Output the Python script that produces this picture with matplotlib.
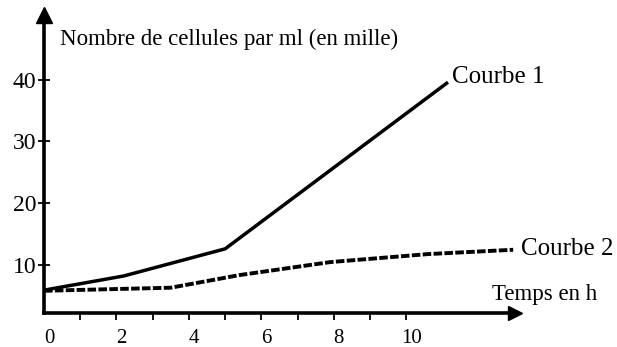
import matplotlib
matplotlib.use("Agg")
import matplotlib.pyplot as plt
import matplotlib.transforms as mtransforms

plt.rcParams['font.family'] = ['Liberation Serif', 'DejaVu Serif']

# temps (h) et nombre de cellules par ml (en mille)
temps_c1 = [0, 2.2, 5.0, 11.15]
cellules_c1 = [5.9, 8.2, 12.6, 39.6]

temps_c2 = [0, 3.5, 5.4, 7.9, 10.6, 12.95]
cellules_c2 = [5.8, 6.3, 8.35, 10.45, 11.75, 12.45]

xtick_pos = list(range(1, 11))
xtick_labels = [0, 2, 4, 6, 8, 10]
ytick_pos = [10, 20, 30, 40]

W, H = 617, 347
fig = plt.figure(figsize=(W / 100, H / 100), dpi=100)
# origin of the axes at pixel (44, 313), arrows end at x=515 and y=15
ax = fig.add_axes([44 / W, (H - 313) / H, (515 - 44) / W, (313 - 15) / H])
ax.set_xlim(0, 13)
ax.set_ylim(2.2, 50.5)

for s in ['top', 'right']:
    ax.spines[s].set_visible(False)
for s in ['left', 'bottom']:
    ax.spines[s].set_linewidth(2.6)

# arrow heads
ax.plot(1, 0, marker='>', color='k', ms=10, transform=ax.transAxes, clip_on=False)
ax.plot(0, 1, marker='^', color='k', ms=11, transform=ax.transAxes, clip_on=False)

ax.plot(temps_c1, cellules_c1, color='k', lw=2.5, solid_capstyle='butt', clip_on=False)
ax.plot(temps_c2, cellules_c2, color='k', lw=2.8, linestyle=(0, (2.2, 0.6)), clip_on=False)

ax.set_xticks(xtick_pos)
ax.set_xticklabels([])
ax.tick_params(axis='x', direction='out', length=5, width=1.3)

ax.set_yticks(ytick_pos)
ax.set_yticklabels([str(v) for v in ytick_pos], fontsize=17)
ax.tick_params(axis='y', direction='inout', length=9, width=1.3, pad=1)

off = mtransforms.offset_copy(ax.get_xaxis_transform(), fig=fig, x=5, y=0, units='dots')
for v in xtick_labels:
    ax.text(v, -0.085, str(v), transform=off, ha='center', va='center', fontsize=15)

ax.text(0.034, 0.899, 'Nombre de cellules par ml (en mille)', transform=ax.transAxes,
        ha='left', va='baseline', fontsize=16.5)
ax.text(11.26, 39.5, 'Courbe 1', ha='left', va='baseline', fontsize=18)
ax.text(13.17, 11.6, 'Courbe 2', ha='left', va='baseline', fontsize=18)
ax.text(0.951, 0.044, 'Temps en h', transform=ax.transAxes, ha='left', va='baseline', fontsize=16.5)

fig.savefig('out.png', dpi=100)
